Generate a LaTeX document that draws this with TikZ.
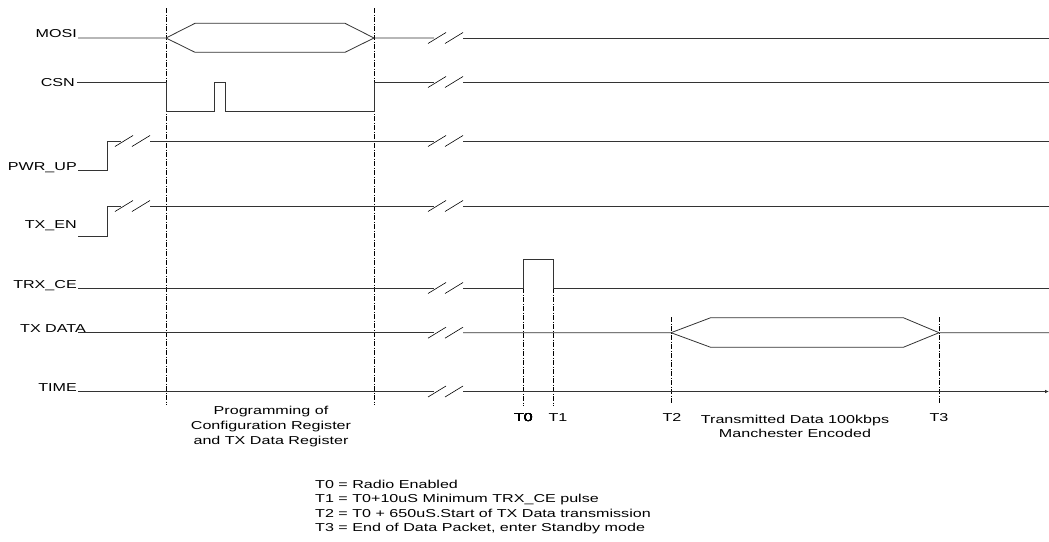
\documentclass[tikz,border=0pt]{standalone}
\usepackage{fontspec}
\setmainfont{Liberation Sans}[FakeStretch=1.4]
\usetikzlibrary{arrows.meta}
\tikzstyle{sig} = [line width=0.8pt, black!80]
\tikzstyle{guide} = [line width=0.6pt, dash pattern=on 5pt off 1.5pt on 1pt off 1.5pt]
\tikzstyle{brk} = [line width=0.6pt]
\tikzstyle{lbl} = [inner sep=0pt, anchor=base east]
\newcommand{\slashes}[2]{\draw[brk] (#1,#2+5.5) -- ++(18,-11) (#1+17,#2+5.5) -- ++(18,-11);}

\begin{document}
\begin{tikzpicture}[x=1pt, y=-1pt, every node/.style={font=\fontsize{11.5}{13.3}\selectfont}]
    \useasboundingbox (0,0) rectangle (1049,541);
    % signal names
    \draw (77,37) node[lbl] (mosi) {MOSI};
    \draw (75,86) node[lbl] (csn) {CSN};
    \draw (77,170) node[lbl] (pwrup) {PWR\_UP};
    \draw (77,228) node[lbl] (txen) {TX\_EN};
    \draw (77,288) node[lbl] (trxce) {TRX\_CE};
    \draw (86,332) node[lbl] (txdata) {TX DATA};
    \draw (77,391) node[lbl] (time) {TIME};
    % dash-dot markers
    \draw[guide] (166,8) -- (166,405);
    \draw[guide] (374,8) -- (374,405);
    \draw[guide] (523,288) -- (523,406);
    \draw[guide] (553,288) -- (553,406);
    \draw[guide] (671,317) -- (671,404);
    \draw[guide] (939,317) -- (939,404);
    % MOSI
    \draw[sig] (78,38) -- (166,38) -- (195,23.3) -- (345,23.3) -- (374,38) -- (434,38);
    \draw[sig] (166,38) -- (195,52.3) -- (345,52.3) -- (374,38);
    \draw[sig] (463,38) -- (1049,38);
    % CSN
    \draw[sig] (77,82) -- (166,82) -- (166,111.7) -- (214,111.7) -- (214,82) -- (225.7,82)
        -- (225.7,111.7) -- (374,111.7) -- (374,82) -- (434,82);
    \draw[sig] (463,82) -- (1049,82);
    % PWR_UP
    \draw[sig] (78,170) -- (107,170) -- (107,141) -- (121,141);
    \slashes{115}{141}
    \draw[sig] (150,141) -- (434,141);
    \draw[sig] (463,141) -- (1049,141);
    % TX_EN
    \draw[sig] (78,236) -- (107,236) -- (107,206) -- (121,206);
    \slashes{115}{206}
    \draw[sig] (150,206) -- (434,206);
    \draw[sig] (463,206) -- (1049,206);
    % TRX_CE
    \draw[sig] (78,288) -- (434,288);
    \draw[sig] (463,288) -- (523,288) -- (523,259) -- (553,259) -- (553,288) -- (1049,288);
    % TX DATA
    \draw[sig] (78,332.7) -- (434,332.7);
    \draw[sig] (463,332.7) -- (671,332.7) -- (710.7,317.7) -- (903.3,317.7) -- (939,332.7) -- (1049,332.7);
    \draw[sig] (671,332.7) -- (710.7,347.3) -- (903.3,347.3) -- (939,332.7);
    % TIME
    \draw[sig] (78,391.5) -- (434,391.5);
    \draw[sig, -{Latex[length=4pt,width=3.5pt]}] (463,391.5) -- (1049,391.5);
    % breaks
    \foreach \y in {38,82,141,206,288,332.7,391.5}
        \slashes{428}{\y}
    % time marks
    \draw (523.5,417.5) node (t0) {T0};
    \draw (558,417.5) node (t1) {T1};
    \draw (672,417.5) node (t2) {T2};
    \draw (939,417.5) node (t3) {T3};
    \draw (271,427) node[align=center, font=\fontsize{11.5}{15}\selectfont] (prog)
        {Programming of\\Configuration Register\\and TX Data Register};
    \draw (795,426) node[align=center, font=\fontsize{11.5}{14}\selectfont] (txd)
        {Transmitted Data 100kbps\\Manchester Encoded};
    \draw (315,507) node[anchor=west, align=left, inner sep=0pt, font=\fontsize{11.5}{14.5}\selectfont] (legend)
        {T0 = Radio Enabled\\T1 = T0+10uS Minimum TRX\_CE pulse\\T2 = T0 + 650uS.Start of TX Data transmission\\T3 = End of Data Packet, enter Standby mode};
\end{tikzpicture}
\end{document}
